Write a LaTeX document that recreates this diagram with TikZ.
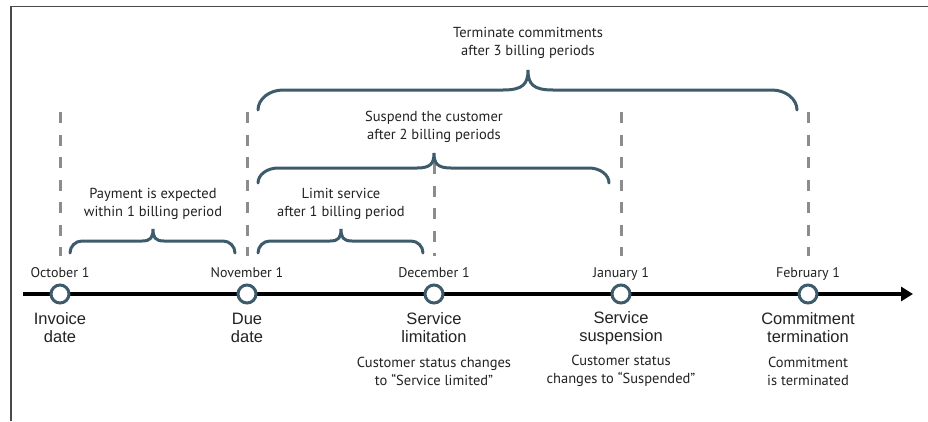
\documentclass[tikz,border=0pt]{standalone}
\usepackage{fontspec}
\setmainfont{PT Sans}
\newfontfamily\eventfont{Liberation Sans}
\usetikzlibrary{arrows.meta}
\definecolor{slate}{HTML}{3D5B6B}
\definecolor{guidegray}{HTML}{8C8C8C}
\definecolor{framegray}{HTML}{4A4A4A}
\definecolor{ink}{HTML}{222222}

% Curly brace: #1 left x, #2 right x, #3 tip x, #4 end y, #5 bar y, #6 tip y,
% #7 corner run, #8 tip run
\newcommand\drawbillbrace[8]{%
  \draw[bracestyle]
    (#1,#4) .. controls (#1,{#5+0.45*(#4-#5)}) and ({#1+0.45*#7},#5) .. ({#1+#7},#5)
    -- ({#3-#8},#5) .. controls ({#3-0.2*#8},#5) and (#3,{#5-0.3*(#5-#6)}) .. (#3,#6)
    .. controls (#3,{#5-0.3*(#5-#6)}) and ({#3+0.2*#8},#5) .. ({#3+#8},#5)
    -- ({#2-#7},#5) .. controls ({#2-0.45*#7},#5) and (#2,{#5+0.45*(#4-#5)}) .. (#2,#4);}

\begin{document}
\begin{tikzpicture}[x=1pt,y=-1pt,
  bracestyle/.style={draw=slate, line width=3pt, line cap=round},
  guide/.style={draw=guidegray, line width=3pt, dash pattern=on 11pt off 11.5pt},
  timeline/.style={draw=black, line width=3.5pt, -{Triangle[length=12pt,width=14pt]}},
  milestone/.style={circle, draw=slate, fill=white, line width=3pt, minimum size=18pt, inner sep=0pt},
  datelabel/.style={font=\fontsize{14}{17}\selectfont, text=ink, anchor=base, inner sep=0pt},
  eventlabel/.style={font=\eventfont\fontsize{16.5}{18}\selectfont, text=ink, align=center, inner sep=0pt},
  note/.style={font=\fontsize{14.5}{18}\selectfont, text=ink, align=center, inner sep=0pt},
  framestyle/.style={draw=framegray, line width=1.6pt},
]
\useasboundingbox (0,0) rectangle (928,421);

% outer frame (top and left edges)
\draw[framestyle] (11,421) -- (11,6.5) -- (928,6.5);

% dashed period guides
\coordinate (gOctTop) at (60,112);   \coordinate (gOctBot) at (60,256);
\coordinate (gNovTop) at (247,112);  \coordinate (gNovBot) at (247,256);
\coordinate (gDecTop) at (434,163);  \coordinate (gDecBot) at (434,256);
\coordinate (gJanTop) at (621,112);  \coordinate (gJanBot) at (621,256);
\coordinate (gFebTop) at (808,112);  \coordinate (gFebBot) at (808,256);
\draw[guide] (gOctTop) -- (gOctBot);
\draw[guide] (gNovTop) -- (gNovBot);
\draw[guide] (gDecTop) -- (gDecBot);
\draw[guide] (gJanTop) -- (gJanBot);
\draw[guide] (gFebTop) -- (gFebBot);

% time axis
\coordinate (axisStart) at (23,294);
\coordinate (axisEnd) at (913,294);
\draw[timeline] (axisStart) -- (axisEnd);

% milestones
\node[milestone] (mOct) at (60,294) {};
\node[milestone] (mNov) at (247,294) {};
\node[milestone] (mDec) at (434,294) {};
\node[milestone] (mJan) at (621,294) {};
\node[milestone] (mFeb) at (808,294) {};

% dates
\node[datelabel] (dOct) at (60,277) {October 1};
\node[datelabel] (dNov) at (247,277) {November 1};
\node[datelabel] (dDec) at (434,277) {December 1};
\node[datelabel] (dJan) at (621,277) {January 1};
\node[datelabel] (dFeb) at (808,277) {February 1};

% event names
\node[eventlabel] (eOct) at (60,328) {Invoice\\date};
\node[eventlabel] (eNov) at (247,328) {Due\\date};
\node[eventlabel] (eDec) at (434,328) {Service\\limitation};
\node[eventlabel] (eJan) at (621,328) {Service\\suspension};
\node[eventlabel] (eFeb) at (808,328) {Commitment\\termination};

% status notes
\node[note] (nDec) at (434,371) {Customer status changes\\to “Service limited”};
\node[note] (nJan) at (621,371) {Customer status\\changes to “Suspended”};
\node[note] (nFeb) at (808,371) {Commitment\\is terminated};

% billing period braces
\drawbillbrace{70}{235}{153}{253}{241}{229}{12}{11}
\drawbillbrace{258}{423}{341}{253}{241}{229}{12}{11}
\drawbillbrace{258}{609}{434}{183}{168}{153}{20}{17}
\drawbillbrace{258}{797}{528}{110}{90}{70}{25}{25}

\node[note] (tPay) at (153,204) {Payment is expected\\within 1 billing period};
\node[note] (tLimit) at (341,204) {Limit service\\after 1 billing period};
\node[note] (tSusp) at (434,127) {Suspend the customer\\after 2 billing periods};
\node[note] (tTerm) at (528,43) {Terminate commitments\\after 3 billing periods};
\end{tikzpicture}
\end{document}
